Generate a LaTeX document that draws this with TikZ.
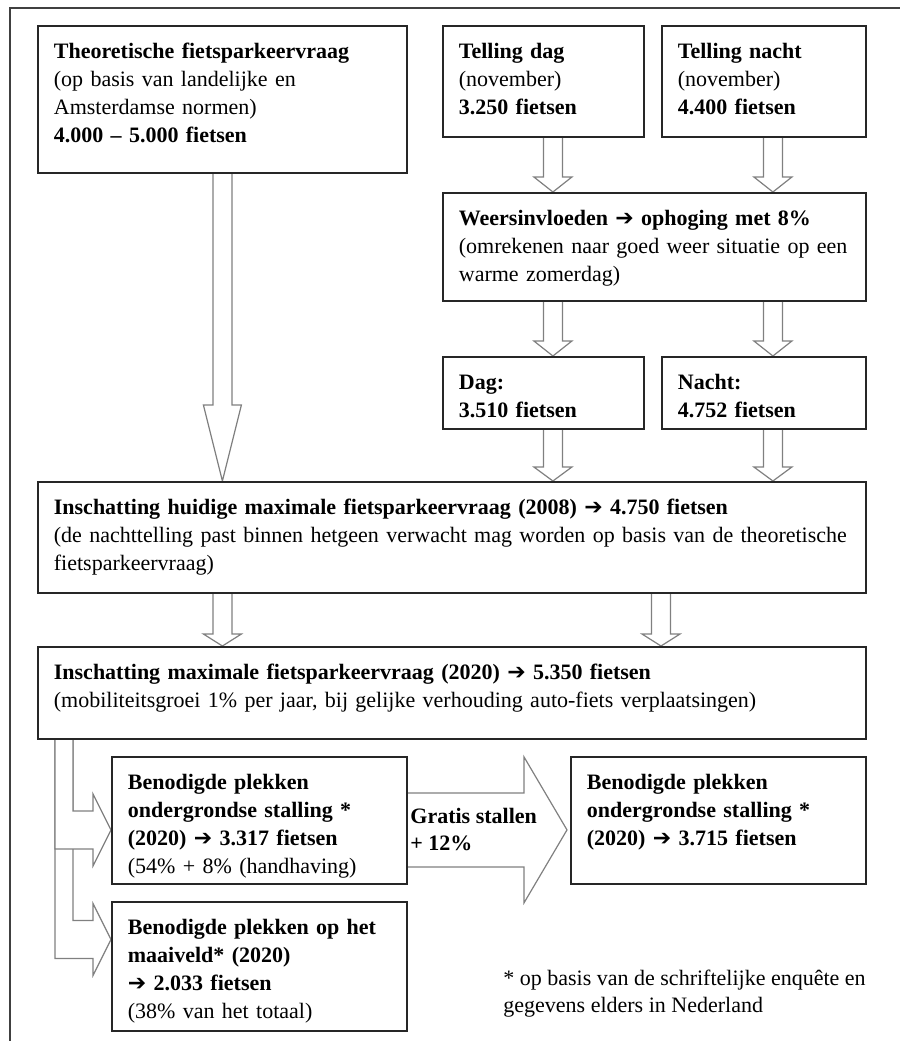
\documentclass[tikz,border=0pt]{standalone}
\usepackage{fontspec}
\setmainfont{Liberation Serif}
\newfontfamily\pijlfont{DejaVu Sans}
\usetikzlibrary{calc}
\pgfdeclarelayer{background}
\pgfsetlayers{background,main}

\newcommand*{\pijl}{{\pijlfont\mdseries ➔}}
% hollow block arrow going down: x point, start, end, head length
\newcommand*{\downblock}[4]{%
  \filldraw[block arrow] let \p1 = (#1), \p2 = (#2), \p3 = (#3) in
  (\x1 - 4.75pt, \y2) -- (\x1 - 4.75pt, \y3 + #4) -- (\x1 - 9.5pt, \y3 + #4)
  -- (\x1, \y3) -- (\x1 + 9.5pt, \y3 + #4) -- (\x1 + 4.75pt, \y3 + #4)
  -- (\x1 + 4.75pt, \y2);
}
% hollow block arrow down the left side, then to the right
\newcommand*{\bentblock}[2]{%
  \filldraw[block arrow] let \p1 = (#1), \p2 = (#2) in
  (\x1 + 9pt, \y1) -- (\x1 + 9pt, \y2 - 9.5pt) -- (\x2 - 9pt, \y2 - 9.5pt)
  -- (\x2 - 9pt, \y2 - 18pt) -- (\x2, \y2) -- (\x2 - 9pt, \y2 + 18pt)
  -- (\x2 - 9pt, \y2 + 9.5pt) -- (\x1 + 18pt, \y2 + 9.5pt) -- (\x1 + 18pt, \y1);
}
\tikzset{
  box/.style={draw=black!85, line width=0.9pt, fill=white, anchor=north west,
    align=left, inner xsep=1.5pt, inner ysep=0pt, text height=16.5pt,
    font=\fontsize{11}{14}\selectfont,
    execute at begin node={\leftskip=6.5pt\hyphenpenalty=10000}},
  boxsize/.style 2 args={text width=#1, text depth=#2},
  block arrow/.style={draw=black!50, line width=0.6pt, fill=white},
  frame/.style={draw=black!75, line width=1pt}
}

\begin{document}
\begin{tikzpicture}[x=0.5pt, y=-0.5pt]
  \useasboundingbox (0,0) rectangle (900,1041);
  \draw[frame] (900,7.5) -- (10,7.5) -- (10,1041);

  \node[box, boxsize={181.5pt}{57pt}] (theo) at (37,25)
  {\textbf{Theoretische fietsparkeervraag}\\(op basis van landelijke en\\
    Amsterdamse normen)\\\textbf{4.000 -- 5.000 fietsen}};
  \node[box, boxsize={97.5pt}{39pt}] (tDag) at (442,25)
  {\textbf{Telling dag}\\(november)\\\textbf{3.250 fietsen}};
  \node[box, boxsize={99pt}{39pt}] (tNacht) at (661,25)
  {\textbf{Telling nacht}\\(november)\\\textbf{4.400 fietsen}};
  \node[box, boxsize={208.5pt}{37.5pt}] (weer) at (442,192)
  {\textbf{Weersinvloeden \pijl\ ophoging met 8\%}\\
    (omrekenen naar goed weer situatie op een\\warme zomerdag)};
  \node[box, boxsize={97.5pt}{19.5pt}] (dag) at (442,356)
  {\textbf{Dag:}\\\textbf{3.510 fietsen}};
  \node[box, boxsize={99pt}{19.5pt}] (nacht) at (661,356)
  {\textbf{Nacht:}\\\textbf{4.752 fietsen}};
  \node[box, boxsize={411pt}{39pt}] (huidig) at (37,481)
  {\textbf{Inschatting huidige maximale fietsparkeervraag (2008) \pijl\ 4.750 fietsen}\\
    (de nachttelling past binnen hetgeen verwacht mag worden op basis van de theoretische\\
    fietsparkeervraag)};
  \node[box, boxsize={411pt}{29.5pt}] (prognose) at (37,646)
  {\textbf{Inschatting maximale fietsparkeervraag (2020) \pijl\ 5.350 fietsen}\\
    (mobiliteitsgroei 1\% per jaar, bij gelijke verhouding auto-fiets verplaatsingen)};
  \node[box, boxsize={144.5pt}{47pt}] (onder) at (111,756)
  {\textbf{Benodigde plekken}\\\textbf{ondergrondse stalling *}\\
    \textbf{(2020) \pijl\ 3.317 fietsen}\\(54\% + 8\% (handhaving)};
  \node[box, boxsize={144.5pt}{48pt}] (maai) at (111,901)
  {\textbf{Benodigde plekken op het}\\\textbf{maaiveld* (2020)}\\
    \textbf{\pijl\ 2.033 fietsen}\\(38\% van het totaal)};
  \node[box, boxsize={144.5pt}{47pt}] (gratis) at (570,756)
  {\textbf{Benodigde plekken}\\\textbf{ondergrondse stalling *}\\
    \textbf{(2020) \pijl\ 3.715 fietsen}};

  \node[anchor=north west, align=left, inner sep=0pt,
  font=\fontsize{11}{13.5}\selectfont\bfseries] (gratisTxt) at (410,808)
  {Gratis stallen\\+ 12\%};
  \node[anchor=north west, align=left, inner sep=0pt,
  font=\fontsize{11}{13.5}\selectfont] (note) at (503,970)
  {* op basis van de schriftelijke enquête en\\gegevens elders in Nederland};

  \coordinate (dagCol) at ([xshift=4.75pt]tDag.south);
  \coordinate (nachtCol) at ([xshift=4.5pt]tNacht.south);

  \begin{pgfonlayer}{background}
    \downblock{theo.south}{theo.south}{huidig.north}{38pt}
    \downblock{dagCol}{tDag.south}{weer.north}{7.5pt}
    \downblock{nachtCol}{tNacht.south}{weer.north}{7.5pt}
    \downblock{dagCol}{weer.south}{dag.north}{7.5pt}
    \downblock{nachtCol}{weer.south}{nacht.north}{7.5pt}
    \downblock{dagCol}{dag.south}{huidig.north}{7pt}
    \downblock{nachtCol}{nacht.south}{huidig.north}{7pt}
    \downblock{theo.south}{huidig.south}{prognose.north}{6pt}
    \downblock{nacht.south west}{huidig.south}{prognose.north}{6pt}

    \bentblock{prognose.south west}{[yshift=13.5pt]maai.west}
    \bentblock{prognose.south west}{[yshift=-4.75pt]onder.west}

    \filldraw[block arrow] let \p1 = ([yshift=-4.75pt]onder.east), \p2 = (gratis.west) in
    (\x1, \y1 + 18.5pt) -- (\x2 - 23pt, \y1 + 18.5pt) -- (\x2 - 23pt, \y1 + 36.5pt)
    -- (\x2 - 1.5pt, \y1) -- (\x2 - 23pt, \y1 - 36.5pt) -- (\x2 - 23pt, \y1 - 18.5pt)
    -- (\x1, \y1 - 18.5pt);
  \end{pgfonlayer}
\end{tikzpicture}
\end{document}
